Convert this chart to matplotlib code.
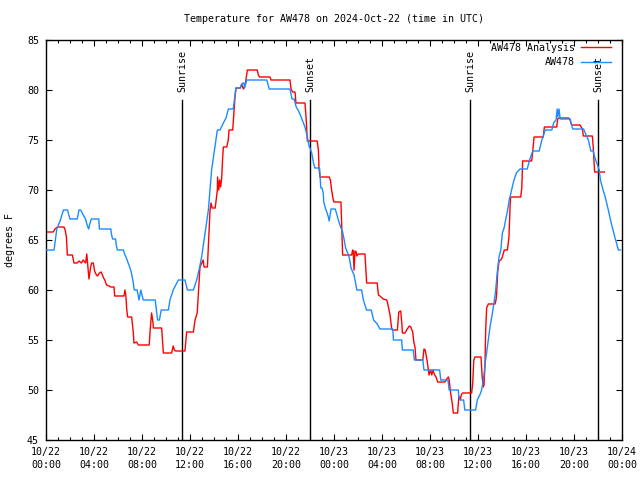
import matplotlib
matplotlib.use("Agg")
import matplotlib.pyplot as plt
from matplotlib.ticker import MultipleLocator

plt.rcParams['font.family'] = ['DejaVu Sans Mono']

title = "Temperature for AW478 on 2024-Oct-22 (time in UTC)"
ylabel = "degrees F"

# Observed station temperature (AW478): hours since 10/22 00:00 UTC, deg F
obs_hours = [0.0, 0.67, 0.9, 1.2, 1.45, 1.8, 1.9, 2.0, 2.6, 2.75, 2.9, 3.1, 3.3, 3.4, 3.55, 3.65, 3.78,
             4.4, 4.45, 5.4, 5.45, 5.55, 5.8, 5.85, 5.95, 6.45, 6.55, 6.7, 6.85, 7.0, 7.1, 7.2, 7.28,
             7.35, 7.6, 7.75, 7.9, 8.0, 8.1, 9.1, 9.3, 9.45, 9.6, 10.2, 10.33, 10.6, 11.03, 11.58,
             11.78, 12.28, 12.56, 12.75, 12.97, 13.17, 13.53, 13.8, 14.28, 14.5, 14.78, 15.0, 15.2,
             15.6, 15.83, 16.17, 16.4, 16.5, 16.55, 16.72, 18.4, 18.6, 20.33, 20.4, 20.5, 20.67,
             20.85, 21.0, 21.2, 21.35, 21.58, 21.78, 21.94, 22.0, 22.14, 22.28, 22.4, 22.8, 22.85,
             22.9, 23.0, 23.1, 23.15, 23.25, 23.4, 23.53, 23.6, 23.75, 24.1, 24.25, 24.36, 24.55,
             24.72, 24.85, 24.97, 25.14, 25.28, 25.42, 25.67, 25.8, 25.9, 26.3, 26.45, 26.58, 26.7,
             27.1, 27.3, 27.6, 27.83, 28.9, 28.95, 29.64, 29.7, 30.6, 30.7, 31.4, 31.5, 32.8, 32.9,
             33.5, 33.6, 34.36, 34.4, 34.5, 34.8, 34.9, 35.8, 35.94, 36.15, 36.3, 36.45, 36.6, 36.75,
             36.86, 37.0, 37.2, 37.33, 37.45, 37.6, 37.75, 37.9, 38.03, 38.17, 38.3, 38.47, 38.6,
             38.8, 39.0, 39.2, 39.5, 40.1, 40.3, 40.56, 41.1, 41.3, 41.6, 42.15, 42.3, 42.5, 42.6,
             42.65, 42.75, 42.85, 43.67, 43.9, 44.8, 45.0, 45.2, 45.4, 45.6, 45.75, 45.9, 46.1,
             46.2, 46.4, 46.6, 46.86, 47.1, 47.4, 47.7, 47.85]
obs_temp = [64.0, 64.0, 66.1, 67.0, 68.0, 68.0, 67.5, 67.1, 67.1, 68.0, 68.0, 67.5, 67.1, 66.6, 66.1, 66.6, 67.1,
            67.1, 66.1, 66.1, 65.6, 65.1, 65.1, 64.5, 64.0, 64.0, 63.6, 63.2, 62.7, 62.2, 61.8, 61.2, 60.7,
            60.0, 60.0, 59.0, 60.0, 59.5, 59.0, 59.0, 57.0, 57.0, 58.0, 58.0, 59.0, 60.0, 61.0, 61.0,
            60.0, 60.0, 61.0, 62.0, 63.3, 65.0, 68.0, 72.0, 76.0, 76.0, 76.7, 77.2, 78.1,
            78.1, 80.2, 80.2, 80.7, 80.7, 80.2, 81.0, 81.0, 80.1, 80.1, 79.7, 79.1, 79.1,
            78.3, 78.0, 77.5, 77.0, 76.3, 75.3, 74.3, 74.2, 73.7, 72.8, 72.2, 72.2, 71.2,
            70.2, 70.2, 69.7, 68.8, 68.3, 67.8, 67.3, 66.9, 68.1, 68.1, 67.5, 67.0, 66.3,
            65.8, 65.0, 64.2, 63.7, 63.2, 62.2, 61.5, 60.7, 60.0, 60.0, 59.0, 58.5, 58.0,
            58.0, 57.0, 56.6, 56.1, 56.1, 55.0, 55.0, 54.0, 54.0, 53.0, 53.0, 52.0, 52.0, 51.0,
            51.0, 50.0, 50.0, 49.3, 49.0, 49.0, 48.0, 48.0, 49.0, 49.5, 50.0, 51.0, 52.7, 54.0,
            55.0, 56.3, 57.7, 58.7, 59.7, 61.7, 63.3, 64.0, 65.7, 66.2, 67.0, 68.0, 69.0,
            70.0, 71.0, 71.7, 72.1, 72.1, 73.0, 73.9, 73.9, 74.9, 76.0, 76.0, 76.7, 77.0, 78.1,
            77.3, 78.1, 77.1, 77.1, 76.1, 76.1, 75.5, 75.0, 73.9, 73.9, 73.2, 72.7, 72.0,
            71.0, 70.1, 69.3, 68.0, 66.7, 65.3, 64.0, 64.0]

# Analysis temperature (AW478 Analysis)
ana_hours = [0.0, 0.6, 0.75, 0.95, 1.5, 1.6, 1.7, 1.78, 2.2, 2.33, 2.6, 2.75, 2.95, 3.1, 3.3, 3.4, 3.45,
             3.52, 3.58, 3.72, 3.8, 3.94, 4.05, 4.2, 4.3, 4.45, 4.6, 4.8, 4.9, 5.05, 5.25, 5.4, 5.67,
             5.72, 6.5, 6.58, 6.65, 6.72, 6.8, 7.14, 7.28, 7.33, 7.55, 7.7, 8.6, 8.7, 8.8, 8.9, 8.95,
             9.64, 9.78, 10.47, 10.6, 10.7, 10.8, 11.58, 11.72, 12.28, 12.42, 12.6, 12.7, 12.83,
             13.1, 13.17, 13.45, 13.53, 13.67, 13.75, 13.85, 14.1, 14.28, 14.3, 14.4, 14.47, 14.55,
             14.64, 14.72, 14.78, 15.06, 15.19, 15.25, 15.56, 15.67, 15.75, 15.83, 16.2, 16.3,
             16.45, 16.6, 16.7, 16.78, 17.6, 17.7, 17.8, 18.67, 18.75, 20.33, 20.42, 20.55, 20.75,
             20.83, 21.58, 21.67, 21.78, 22.6, 22.7, 22.75, 22.83, 23.6, 23.7, 23.8, 23.94, 24.0,
             24.58, 24.65, 24.72, 25.47, 25.55, 25.6, 25.67, 25.75, 25.85, 25.9, 26.03, 26.58,
             26.65, 26.72, 27.6, 27.7, 27.83, 28.1, 28.4, 28.5, 28.67, 28.8, 28.85, 29.28, 29.4,
             29.56, 29.65, 29.7, 29.92, 30.05, 30.28, 30.4, 30.56, 30.65, 30.75, 30.83, 31.4,
             31.5, 31.6, 31.75, 31.92, 32.05, 32.15, 32.25, 32.35, 32.5, 32.64, 33.25, 33.4,
             33.53, 33.6, 33.72, 33.85, 33.94, 34.3, 34.4, 34.47, 34.53, 34.6, 34.72, 35.47,
             35.56, 35.65, 35.75, 36.25, 36.35, 36.44, 36.5, 36.58, 36.64, 36.72, 36.86, 37.42,
             37.5, 37.56, 37.64, 37.75, 37.9, 38.0, 38.19, 38.45, 38.58, 38.67, 38.72, 39.56,
             39.65, 39.72, 40.47, 40.56, 40.67, 41.44, 41.53, 42.56, 42.64, 42.75, 43.53, 43.65,
             43.8, 44.5, 44.7, 44.78, 45.53, 45.6, 45.67, 45.72, 46.53]
ana_temp = [65.8, 65.8, 66.1, 66.3, 66.3, 66.0, 65.3, 63.5, 63.5, 62.7, 62.7, 62.9, 62.7, 63.0, 62.7, 63.6, 62.9,
            61.8, 61.1, 62.3, 62.7, 62.7, 61.9, 61.5, 61.4, 61.7, 61.8, 61.2, 61.0, 60.5, 60.4, 60.3, 60.3,
            59.4, 59.4, 60.0, 59.5, 58.2, 57.3, 57.3, 55.7, 54.7, 54.8, 54.5, 54.5, 56.3, 57.7, 56.9, 56.2,
            56.2, 53.7, 53.7, 54.4, 54.0, 53.9, 53.9, 55.8, 55.8, 57.0, 57.7, 59.7, 62.3,
            63.0, 62.3, 62.3, 64.3, 68.0, 68.7, 68.2, 68.2, 70.0, 71.3, 70.0, 71.0, 70.3,
            71.2, 73.2, 74.3, 74.3, 75.0, 76.0, 76.0, 78.0, 79.3, 80.2, 80.2, 80.6,
            80.1, 80.5, 81.3, 82.0, 82.0, 81.5, 81.3, 81.3, 81.0, 81.0, 80.1, 79.8, 79.8,
            78.7, 78.7, 77.3, 74.9, 74.9, 74.0, 72.2, 71.3, 71.3, 71.0, 70.0, 69.0, 68.8,
            68.8, 66.0, 63.5, 63.5, 64.0, 63.9, 62.0, 63.9, 63.8, 63.4, 63.6, 63.6,
            62.2, 60.7, 60.7, 59.5, 59.4, 59.1, 59.0, 58.5, 57.5, 56.2, 56.0, 56.0, 57.8,
            57.9, 56.7, 55.7, 55.7, 56.0, 56.4, 56.3, 55.8, 54.8, 54.3, 53.0, 53.0,
            54.1, 54.0, 53.0, 51.5, 52.0, 51.5, 52.0, 51.6, 51.3, 50.8, 50.8, 51.1,
            51.3, 51.0, 49.7, 48.7, 47.7, 47.7, 49.3, 49.3, 49.0, 49.5, 49.7, 49.7,
            50.7, 53.0, 53.3, 53.3, 51.3, 50.3, 50.5, 52.5, 56.0, 58.2, 58.6, 58.6,
            59.0, 59.7, 61.8, 62.9, 63.0, 63.2, 64.0, 64.0, 65.3, 68.3, 69.3, 69.3,
            70.2, 72.9, 72.9, 73.8, 75.3, 75.3, 76.3, 76.3, 77.1, 77.2, 77.2, 77.1,
            76.5, 76.5, 76.1, 75.4, 75.4, 74.3, 72.8, 71.8, 71.8]

event_hours = [11.33, 22.0, 35.33, 46.0]
event_labels = ["Sunrise", "Sunset", "Sunrise", "Sunset"]
event_top = 79.0

tick_hours = list(range(0, 49, 4))
tick_labels = ["10/22\n00:00", "10/22\n04:00", "10/22\n08:00", "10/22\n12:00", "10/22\n16:00",
               "10/22\n20:00", "10/23\n00:00", "10/23\n04:00", "10/23\n08:00", "10/23\n12:00",
               "10/23\n16:00", "10/23\n20:00", "10/24\n00:00"]
y_ticks = [45, 50, 55, 60, 65, 70, 75, 80, 85]

FS = 7.2
RED = "#ff0000"
BLUE = "#1a8cff"

fig = plt.figure(figsize=(6.4, 4.8), dpi=100)
ax = fig.add_axes([46/640, 40/480, 576/640, 400/480])

for h, lab in zip(event_hours, event_labels):
    ax.plot([h, h], [45, event_top], color="black", lw=1.0, zorder=1)
    ax.text(h, event_top + 0.75, lab, rotation=90, ha="center", va="bottom", fontsize=FS)

ax.plot(ana_hours, ana_temp, color=RED, lw=1.0, zorder=2, label="AW478 Analysis")
ax.plot(obs_hours, obs_temp, color=BLUE, lw=1.0, zorder=3, label="AW478")

ax.set_xlim(0, 48)
ax.set_ylim(45, 85)
ax.set_xticks(tick_hours)
ax.set_xticklabels(tick_labels, fontsize=FS, linespacing=1.35)
ax.xaxis.set_minor_locator(MultipleLocator(1))
ax.set_yticks(y_ticks)
ax.set_yticklabels([str(v) for v in y_ticks], fontsize=FS)
ax.tick_params(axis="both", which="major", direction="in", length=4, width=0.8,
               top=True, right=True, pad=5)
ax.tick_params(axis="x", which="minor", direction="in", length=2.2, width=0.8, top=True)
for s in ax.spines.values():
    s.set_linewidth(1.0)

ax.set_title(title, fontsize=FS, pad=13)
fig.text(10/640, 0.5, ylabel, rotation=90, ha="center", va="center", fontsize=FS)

leg = ax.legend(loc="upper right", frameon=False, markerfirst=False, fontsize=FS,
                handlelength=3.0, handletextpad=0.6, labelspacing=0.45,
                borderaxespad=1.1, borderpad=0.0, bbox_to_anchor=(1.0, 1.0 + 1.0/400*8))

fig.savefig("out.png", dpi=100)
